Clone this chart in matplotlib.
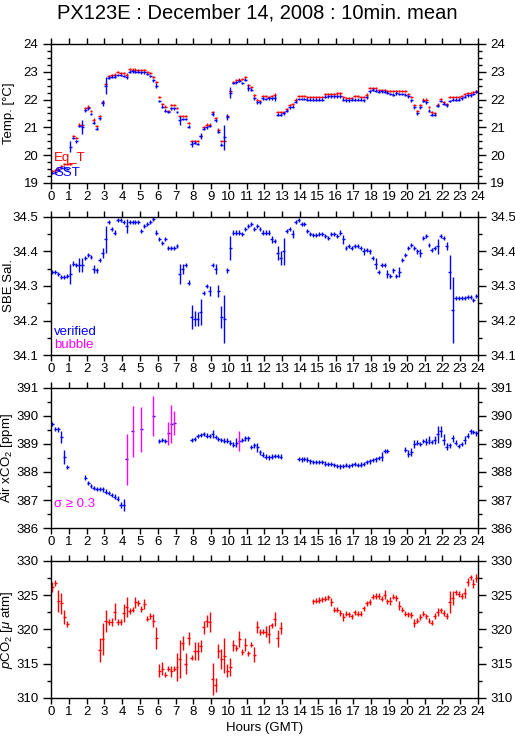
import numpy as np
import matplotlib
matplotlib.use("Agg")
import matplotlib.pyplot as plt
from matplotlib.ticker import MultipleLocator

plt.rcParams['font.family'] = ['Liberation Sans', 'DejaVu Sans']
plt.rcParams['mathtext.fontset'] = 'custom'
plt.rcParams['mathtext.rm'] = 'Liberation Sans'
plt.rcParams['mathtext.it'] = 'Liberation Sans:italic'

nan = np.nan

# 10-minute means, one value per 10 min (00:05, 00:15, ... 23:55)
sst = [19.36, 19.38, 19.48, 19.55, 19.55, 19.5,
       20.3, 20.62, 20.5, 21.05, 21.0, 21.62,
       21.68, 21.48, 21.17, 20.95, 21.32, 21.88,
       22.5, 22.78, 22.82, 22.82, 22.88, 22.88,
       22.85, 22.8, 23.0, 23.02, 23.0, 23.0,
       22.98, 22.98, 22.92, 22.85, 22.7, 22.5,
       21.95, 21.75, 21.6, 21.55, 21.68, 21.68,
       21.55, 21.25, 21.3, 21.3, 21.02, 20.4,
       20.45, 20.4, 20.68, 20.95, 21.0, 21.05,
       21.48, 21.25, 20.85, 20.38, 20.65, 21.38,
       22.25, 22.6, 22.62, 22.68, 22.6, 22.72,
       22.42, 22.35, 22.05, 21.9, 21.9, 22.05,
       22.02, 22.05, 22.05, 22.05, 21.45, 21.45,
       21.5, 21.6, 21.72, 21.75, 21.92, 22.02,
       22.02, 22.02, 22.0, 22.0, 22.0, 22.0,
       22.0, 22.0, 22.1, 22.12, 22.12, 22.12,
       22.12, 22.12, 22.0, 21.98, 21.98, 22.0,
       22.0, 22.0, 22.0, 21.98, 22.08, 22.3,
       22.35, 22.32, 22.28, 22.3, 22.28, 22.25,
       22.2, 22.18, 22.22, 22.2, 22.2, 22.18,
       22.12, 21.98, 21.72, 21.5, 21.72, 21.95,
       21.9, 21.6, 21.45, 21.45, 21.78, 21.95,
       21.85, 21.8, 21.95, 22.0, 22.0, 22.0,
       22.05, 22.1, 22.15, 22.15, 22.2, 22.28]
sst_err_big = {6: 0.2, 10: 0.25, 17: 0.12, 18: 0.3, 35: 0.1, 43: 0.15, 47: 0.12,
               50: 0.1, 54: 0.08, 58: 0.45, 59: 0.1, 60: 0.2, 66: 0.1, 75: 0.1}

eqt = [19.42, 19.45, 19.52, 19.6, 19.68, 19.68,
       19.68, 20.7, 20.62, 21.1, 21.08, 21.7,
       21.75, 21.6, 21.28, 21.05, 21.4, 21.9,
       22.55, 22.85, 22.88, 22.9, 22.98, 22.95,
       22.95, 22.9, 23.1, 23.08, 23.08, 23.06,
       23.06, 23.05, 23.0, 22.95, 22.8, 22.62,
       22.08, 21.85, 21.75, 21.6, 21.8, 21.8,
       21.7, 21.4, 21.4, 21.4, 21.15, 20.5,
       20.5, 20.5, 20.7, 21.0, 21.1, 21.1,
       21.55, 21.35, 20.92, 20.5, 20.5, 21.4,
       22.3, 22.62, 22.7, 22.72, 22.75, 22.8,
       22.52, 22.45, 22.15, 21.98, 21.95, 22.12,
       22.12, 22.1, 22.12, 22.18, 21.55, 21.55,
       21.55, 21.65, 21.8, 21.85, 22.0, 22.12,
       22.12, 22.12, 22.1, 22.1, 22.1, 22.1,
       22.1, 22.1, 22.2, 22.2, 22.2, 22.2,
       22.22, 22.22, 22.1, 22.05, 22.05, 22.05,
       22.12, 22.12, 22.1, 22.1, 22.18, 22.42,
       22.42, 22.42, 22.35, 22.35, 22.35, 22.32,
       22.3, 22.3, 22.32, 22.3, 22.3, 22.3,
       22.2, 22.08, 21.8, 21.6, 21.8, 22.0,
       22.0, 21.72, 21.55, 21.52, 21.82, 22.02,
       21.9, 21.85, 22.08, 22.1, 22.1, 22.08,
       22.12, 22.2, 22.25, 22.25, 22.28, 22.32]

sal = [34.34, 34.34, 34.335, 34.325, 34.325, 34.33,
       34.335, 34.365, 34.36, 34.36, 34.36, 34.38,
       34.39, 34.385, 34.35, 34.345, 34.375, 34.395,
       34.435, 34.485, 34.465, 34.455, 34.49, 34.49,
       34.485, 34.475, 34.485, 34.485, 34.485, 34.485,
       34.46, 34.475, 34.48, 34.485, 34.495, 34.455,
       34.435, 34.425, 34.435, 34.41, 34.41, 34.41,
       34.415, 34.335, 34.35, 34.36, 34.31, 34.21,
       34.205, 34.205, 34.225, 34.28, 34.3, 34.285,
       34.36, 34.35, 34.285, 34.21, 34.205, 34.345,
       34.41, 34.455, 34.455, 34.455, 34.45, 34.465,
       34.475, 34.48, 34.465, 34.475, 34.465, 34.455,
       34.455, 34.455, 34.435, 34.43, 34.395, 34.38,
       34.4, 34.46, 34.465, 34.45, 34.485, 34.49,
       34.48, 34.48, 34.46, 34.45, 34.448, 34.448,
       34.45, 34.45, 34.445, 34.44, 34.45, 34.45,
       34.445, 34.455, 34.435, 34.41, 34.415, 34.41,
       34.415, 34.415, 34.41, 34.4, 34.405, 34.4,
       34.38, 34.365, 34.34, 34.36, 34.36, 34.335,
       34.33, 34.345, 34.33, 34.34, 34.375, 34.39,
       34.41, 34.42, 34.41, 34.4, 34.395, 34.44,
       34.445, 34.42, 34.405, 34.41, 34.415, 34.445,
       34.44, 34.415, 34.34, 34.23, 34.265, 34.265,
       34.265, 34.265, 34.268, 34.268, 34.26, 34.27]
sal_err_big = {6: 0.03, 9: 0.02, 10: 0.02, 14: 0.012, 17: 0.015, 18: 0.04, 25: 0.02,
               43: 0.03, 44: 0.015, 47: 0.035, 48: 0.022, 49: 0.02, 50: 0.038, 53: 0.015,
               55: 0.015, 56: 0.017, 57: 0.032, 58: 0.07, 60: 0.035, 74: 0.01, 76: 0.02,
               77: 0.02, 78: 0.038, 81: 0.012, 98: 0.012, 105: 0.01, 109: 0.015,
               113: 0.012, 117: 0.015, 124: 0.012, 130: 0.022, 133: 0.012, 134: 0.05,
               135: 0.095}

air = [389.72, 389.54, 389.52, 389.25, 388.55, 388.18,
       nan, nan, nan, nan, nan, 387.8,
       387.6, 387.5, 387.42, 387.4, 387.4, 387.38,
       387.3, 387.25, 387.18, 387.12, 387.05, 386.82,
       386.82, 388.45, nan, 389.45, nan, nan,
       389.52, nan, nan, nan, 390.0, nan,
       389.1, 389.15, 389.1, 389.38, 389.7, 389.75,
       nan, nan, nan, nan, nan, 389.15,
       389.18, 389.28, 389.32, 389.35, 389.3, 389.28,
       389.35, 389.25, 389.18, 389.15, 389.12, 389.12,
       389.05, 388.98, 389.05, 389.1, 389.15, 389.2,
       389.2, 388.9, 388.95, 388.88, 388.7, 388.62,
       388.55, 388.52, 388.55, 388.58, 388.57, 388.55,
       nan, nan, nan, nan, nan, 388.46,
       388.45, 388.46, 388.44, 388.38, 388.35, 388.35,
       388.36, 388.35, 388.3, 388.28, 388.28, 388.25,
       388.22, 388.2, 388.22, 388.25, 388.22, 388.25,
       388.28, 388.25, 388.26, 388.28, 388.35, 388.38,
       388.42, 388.45, 388.5, 388.55, 388.75, 388.75,
       nan, nan, nan, nan, nan, 388.8,
       388.65, 388.72, 389.0, 389.05, 389.0, 389.1,
       389.08, 389.15, 389.08, 389.15, 389.35, 389.45,
       389.15, 388.9, 388.95, 389.2, 389.05, 388.92,
       389.0, 389.15, 389.3, 389.45, 389.42, 389.38]
air_err_big = {3: 0.2, 4: 0.25, 23: 0.1, 24: 0.2, 25: 0.9, 27: 0.9, 30: 0.8, 34: 0.7,
               39: 0.42, 40: 0.68, 41: 0.42, 54: 0.15, 62: 0.15, 63: 0.35, 69: 0.15,
               111: 0.15, 120: 0.12, 121: 0.15, 122: 0.15, 126: 0.12, 127: 0.15,
               129: 0.15, 130: 0.3, 131: 0.2, 132: 0.2, 133: 0.12, 135: 0.12, 139: 0.15}
air_sigma_flag = [25, 27, 30, 34, 39, 40, 41, 63]

pco2 = [326.2, 326.8, 324.1, 323.8, 321.8, 320.8,
        nan, nan, nan, nan, nan, nan,
        nan, nan, nan, nan, 317.0, 318.6,
        321.2, 321.1, 321.1, 322.6, 321.1, 321.1,
        322.4, 323.3, 322.7, 322.9, 324.0, 323.9,
        323.0, 323.7, 321.6, 322.0, 321.3, 318.8,
        314.0, 314.3, 313.4, 314.3, 313.9, 314.3,
        314.5, 315.7, 318.0, 315.0, 318.7, 315.9,
        316.9, 316.9, 317.6, 320.3, 321.2, 321.1,
        312.8, 311.9, 316.9, 315.7, 316.2, 314.0,
        314.5, 317.7, 317.3, 318.6, 316.7, 317.8,
        316.5, 317.8, 316.3, 320.4, 319.6, 319.7,
        319.7, 319.3, 320.6, 321.5, 318.7, 320.2,
        nan, nan, nan, nan, nan, nan,
        nan, nan, nan, nan, 324.1, 324.2,
        324.3, 324.4, 324.5, 324.7, 324.0, 322.9,
        322.9, 322.4, 321.8, 322.3, 322.2, 321.9,
        322.5, 322.3, 322.3, 323.1, 323.8, 324.0,
        324.8, 324.9, 324.9, 324.5, 325.1, 324.1,
        324.2, 324.8, 324.6, 323.5, 322.9, 322.3,
        322.2, 322.1, 321.0, 321.3, 321.8, 322.3,
        321.9, 321.3, 321.0, 322.0, 322.5, 322.8,
        322.4, 322.0, 324.0, 324.6, 325.4, 325.2,
        324.9, 325.3, 326.9, 327.6, 326.7, 327.5]
pco2_err_big = {0: 0.8, 2: 1.6, 3: 1.5, 4: 1.0, 16: 1.7, 17: 2.3, 18: 1.6, 20: 0.6,
                21: 1.2, 24: 1.3, 25: 1.5, 28: 0.8, 31: 0.7, 34: 1.0, 35: 1.6, 36: 1.0,
                37: 1.0, 40: 0.8, 42: 2.0, 43: 2.8, 44: 1.0, 45: 1.5, 46: 1.0, 48: 1.3,
                49: 1.3, 50: 0.9, 51: 0.9, 52: 0.9, 53: 1.5, 54: 2.3, 55: 1.0, 56: 1.0,
                57: 1.5, 58: 2.6, 59: 1.0, 60: 1.3, 61: 0.8, 63: 1.2, 65: 1.0, 68: 1.1,
                69: 0.9, 72: 0.8, 73: 1.3, 75: 1.0, 76: 1.2, 77: 0.9, 94: 0.6, 98: 0.6,
                112: 0.6, 114: 0.6, 117: 0.6, 122: 0.6, 130: 0.6, 134: 1.6, 135: 1.0,
                139: 0.7, 140: 0.6, 142: 0.6, 143: 0.6}

hours = (np.arange(144) + 0.5) / 6.0
half = 1.0 / 12.0

BLUE = '#0000ff'
RED = '#ff0000'
MAG = '#ff00ff'
LW = 1.0


def errs(big, base):
    e = np.full(144, base)
    for k, v in big.items():
        e[k] = v
    return e


def crosses(ax, y, err, color, idx=None):
    y = np.asarray(y, dtype=float)
    x = hours
    if idx is not None:
        x = x[idx]; y = y[idx]; err = err[idx]
    ax.errorbar(x, y, xerr=half, yerr=err, fmt='none', ecolor=color,
                elinewidth=LW, capsize=0)


def setup(ax, lo, hi, major, minor, label):
    ax.set_xlim(0, 24)
    ax.set_ylim(lo, hi)
    ax.xaxis.set_major_locator(MultipleLocator(1))
    ax.yaxis.set_major_locator(MultipleLocator(major))
    ax.yaxis.set_minor_locator(MultipleLocator(minor))
    ax.tick_params(axis='both', which='both', direction='out', top=True, right=True,
                   labelright=True, labelsize=9.5, width=1)
    ax.tick_params(axis='x', which='major', length=4, pad=2)
    ax.tick_params(axis='y', which='major', length=6, pad=3)
    ax.tick_params(axis='y', which='minor', length=3)
    ax.set_ylabel(label, fontsize=9.5)
    ax.yaxis.set_label_coords(-0.085, 0.5)
    for s in ax.spines.values():
        s.set_linewidth(1)


fig = plt.figure(figsize=(5.15, 7.39), dpi=100)
L, W = 0.099, 0.829
ax1 = fig.add_axes([L, 0.7524, W, 0.1881])
ax2 = fig.add_axes([L, 0.5196, W, 0.1868])
ax3 = fig.add_axes([L, 0.2855, W, 0.1895])
ax4 = fig.add_axes([L, 0.0555, W, 0.1854])

fig.text(0.5, 0.983, 'PX123E : December 14, 2008 : 10min. mean', ha='center', va='center',
         fontsize=14.5)

# temperature
crosses(ax1, eqt, errs({}, 0.04), RED)
crosses(ax1, sst, errs(sst_err_big, 0.05), BLUE)
setup(ax1, 19, 24, 1, 0.25, 'Temp. [°C]')
ax1.text(0.007, 0.18, 'Eq_T', color=RED, transform=ax1.transAxes, fontsize=9.5, va='center')
ax1.text(0.007, 0.072, 'SST', color=BLUE, transform=ax1.transAxes, fontsize=9.5, va='center')

# salinity
crosses(ax2, sal, errs(sal_err_big, 0.006), BLUE)
setup(ax2, 34.1, 34.5, 0.1, 0.05, 'SBE Sal.')
ax2.text(0.007, 0.167, 'verified', color=BLUE, transform=ax2.transAxes, fontsize=9.5, va='center')
ax2.text(0.007, 0.072, 'bubble', color=MAG, transform=ax2.transAxes, fontsize=9.5, va='center')

# air xCO2
air_e = errs(air_err_big, 0.08)
ok = np.array([i for i in range(144) if i not in air_sigma_flag])
crosses(ax3, air, air_e, BLUE, ok)
ax3.errorbar(hours[air_sigma_flag], np.asarray(air)[air_sigma_flag], xerr=half, fmt='none',
             ecolor=BLUE, elinewidth=LW, capsize=0)
ax3.errorbar(hours[air_sigma_flag], np.asarray(air)[air_sigma_flag],
             yerr=air_e[air_sigma_flag], fmt='none', ecolor=MAG, elinewidth=LW, capsize=0)
setup(ax3, 386, 391, 1, 0.5, 'Air xCO$_2$ [ppm]')
ax3.text(0.007, 0.17, 'σ ≥ 0.3', color=MAG, transform=ax3.transAxes, fontsize=9.5, va='center')

# pCO2
crosses(ax4, pco2, errs(pco2_err_big, 0.4), RED)
setup(ax4, 310, 330, 5, 2.5, '$\\it{p}$CO$_2$ [$\\mu$ atm]')
ax4.set_xlabel('Hours (GMT)', fontsize=9.5, labelpad=3)

fig.savefig('out.png', dpi=100)
